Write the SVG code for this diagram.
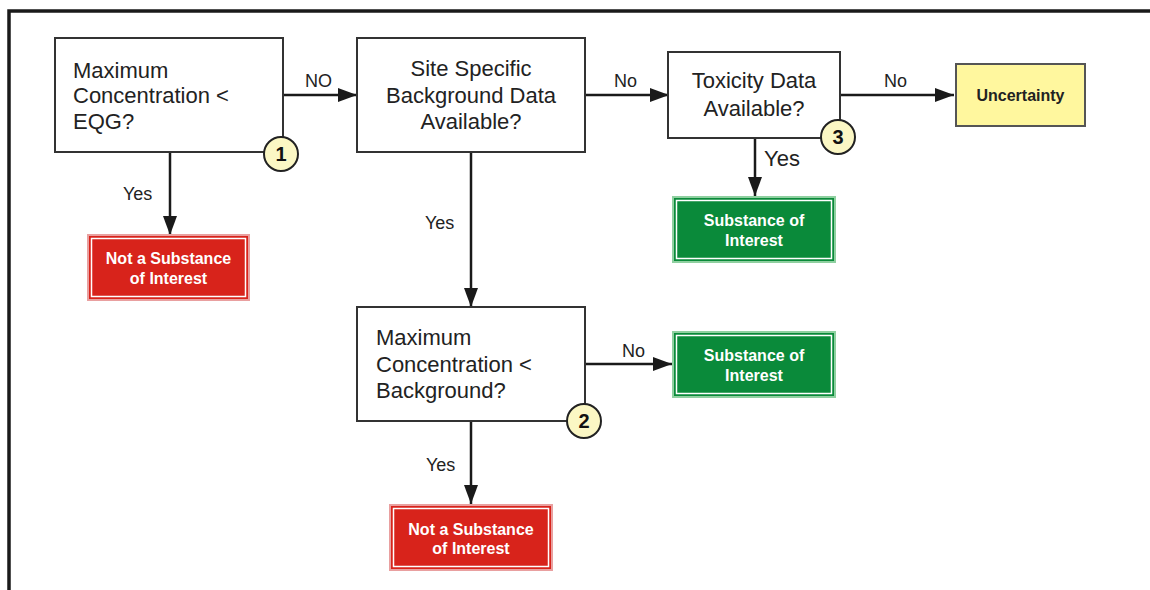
<svg xmlns="http://www.w3.org/2000/svg" width="1150" height="590" viewBox="0 0 1150 590">
<defs>
<marker id="ah" markerUnits="userSpaceOnUse" markerWidth="20" markerHeight="16" refX="19" refY="8" orient="auto">
<path d="M0,1 L19,8 L0,15 Z" fill="#1a1a1a"/>
</marker>
<style>
.q{fill:#fff;stroke:#333;stroke-width:2}
.qt{font-family:"Liberation Sans",Arial,sans-serif;font-size:22px;fill:#222}
.lbl{font-family:"Liberation Sans",Arial,sans-serif;font-size:18px;fill:#222}
.bt{font-family:"Liberation Sans",Arial,sans-serif;font-size:16px;font-weight:bold;fill:#fff;text-anchor:middle}
.red{fill:#d8231b;stroke:#e9a0a0;stroke-width:2}
.grn{fill:#0a8a3a;stroke:#8fd0a0;stroke-width:2}
.inr{fill:none;stroke:#fff;stroke-width:1.5}
.ci{fill:#fbf7c4;stroke:#222;stroke-width:2}
.cn{font-family:"Liberation Sans",Arial,sans-serif;font-size:20px;font-weight:bold;fill:#111;text-anchor:middle}
.cn2{stroke:#1a1a1a;stroke-width:2.5;fill:none}
</style>
</defs>
<rect width="1150" height="590" fill="#fff"/>
<path d="M9,590 V11 H1150" fill="none" stroke="#1a1a1a" stroke-width="3.5"/>

<g id="connectors">
<line class="cn2" x1="283" y1="95" x2="357" y2="95" marker-end="url(#ah)"/>
<text class="lbl" x="305" y="87">NO</text>
<line class="cn2" x1="170" y1="152" x2="170" y2="235" marker-end="url(#ah)"/>
<text class="lbl" x="123" y="200">Yes</text>
<line class="cn2" x1="585" y1="95" x2="669" y2="95" marker-end="url(#ah)"/>
<text class="lbl" x="614" y="87">No</text>
<line class="cn2" x1="471" y1="152" x2="471" y2="307" marker-end="url(#ah)"/>
<text class="lbl" x="425" y="229">Yes</text>
<line class="cn2" x1="840" y1="95" x2="954" y2="95" marker-end="url(#ah)"/>
<text class="lbl" x="884" y="87">No</text>
<line class="cn2" x1="755" y1="138" x2="755" y2="196" marker-end="url(#ah)"/>
<text class="lbl" x="764" y="166" style="font-size:22px">Yes</text>
<line class="cn2" x1="585" y1="364" x2="672" y2="364" marker-end="url(#ah)"/>
<text class="lbl" x="622" y="357">No</text>
<line class="cn2" x1="471" y1="421" x2="471" y2="504" marker-end="url(#ah)"/>
<text class="lbl" x="426" y="471">Yes</text>
</g>

<g id="q1">
<rect class="q" x="55" y="38" width="228" height="114"/>
<text class="qt" x="73" y="78">Maximum</text>
<text class="qt" x="73" y="103">Concentration &lt;</text>
<text class="qt" x="73" y="129">EQG?</text>
<circle class="ci" cx="281" cy="154" r="17"/>
<text class="cn" x="281" y="161">1</text>
</g>

<g id="notsoi1">
<rect class="red" x="88" y="235" width="161" height="65"/>
<rect class="inr" x="91.5" y="238.5" width="154" height="58"/>
<text class="bt" x="168.5" y="264">Not a Substance</text>
<text class="bt" x="168.5" y="284">of Interest</text>
</g>

<g id="q2">
<rect class="q" x="357" y="38" width="228" height="114"/>
<text class="qt" x="471" y="76" text-anchor="middle">Site Specific</text>
<text class="qt" x="471" y="103" text-anchor="middle">Background Data</text>
<text class="qt" x="471" y="129" text-anchor="middle">Available?</text>
</g>

<g id="q3">
<rect class="q" x="668" y="52" width="172" height="86"/>
<text class="qt" x="754" y="88" text-anchor="middle">Toxicity Data</text>
<text class="qt" x="754" y="116" text-anchor="middle">Available?</text>
<circle class="ci" cx="838" cy="137" r="17"/>
<text class="cn" x="838" y="144">3</text>
</g>

<g id="uncertainty">
<rect x="956" y="64" width="129" height="62" fill="#fff79e" stroke="#555" stroke-width="2"/>
<text class="bt" x="1020.5" y="101" style="fill:#222;font-size:16px">Uncertainty</text>
</g>

<g id="soi1">
<rect class="grn" x="673" y="197" width="162" height="65"/>
<rect class="inr" x="676.5" y="200.5" width="155" height="58"/>
<text class="bt" x="754" y="226">Substance of</text>
<text class="bt" x="754" y="246">Interest</text>
</g>

<g id="q4">
<rect class="q" x="357" y="307" width="228" height="114"/>
<text class="qt" x="376" y="345">Maximum</text>
<text class="qt" x="376" y="372">Concentration &lt;</text>
<text class="qt" x="376" y="398">Background?</text>
<circle class="ci" cx="584" cy="421" r="17"/>
<text class="cn" x="584" y="428">2</text>
</g>

<g id="soi2">
<rect class="grn" x="673" y="332" width="162" height="65"/>
<rect class="inr" x="676.5" y="335.5" width="155" height="58"/>
<text class="bt" x="754" y="361">Substance of</text>
<text class="bt" x="754" y="381">Interest</text>
</g>

<g id="notsoi2">
<rect class="red" x="390" y="505" width="162" height="65"/>
<rect class="inr" x="393.5" y="508.5" width="155" height="58"/>
<text class="bt" x="471" y="535">Not a Substance</text>
<text class="bt" x="471" y="554">of Interest</text>
</g>
</svg>
